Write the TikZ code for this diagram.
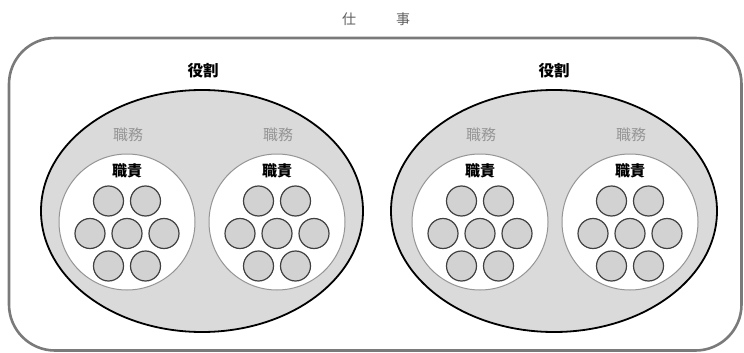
\documentclass[tikz,border=0pt]{standalone}
\usepackage{fontspec}
\setmainfont{Noto Sans CJK JP}
\usetikzlibrary{shapes.geometric}
\definecolor{framegray}{HTML}{7A7A7A}
\definecolor{titlegray}{HTML}{5E5E5E}
\definecolor{rolefill}{HTML}{DADADA}
\definecolor{dotfill}{HTML}{D2D2D2}
\definecolor{dotline}{HTML}{404040}
\definecolor{dutygray}{HTML}{959595}
\tikzset{
  frame/.style={draw=framegray, line width=2.6pt, rounded corners=46pt},
  role/.style={ellipse, draw=black, line width=1.8pt, fill=rolefill, minimum width=322pt, minimum height=242pt, inner sep=0pt},
  duty/.style={circle, draw=dutygray, line width=1pt, fill=white, minimum size=136pt, inner sep=0pt},
  dot/.style={circle, draw=dotline, line width=1.2pt, fill=dotfill, minimum size=30pt, inner sep=0pt},
  rolelab/.style={font=\bfseries\fontsize{15.5pt}{17pt}\selectfont, text=black},
  dutylab/.style={font=\fontsize{15pt}{17pt}\selectfont, text=dutygray},
  resplab/.style={font=\bfseries\fontsize{15pt}{17pt}\selectfont, text=black},
  titlelab/.style={font=\fontsize{14pt}{16pt}\selectfont, text=titlegray}
}
\begin{document}
\begin{tikzpicture}[x=1pt,y=-1pt]
\useasboundingbox (0,0) rectangle (744,353);
\node[titlelab] (title) at (376,19) {仕\hspace{40pt}事};
\draw[frame] (9,38) rectangle (741.5,350.5);
\node[role] (roleL) at (202,211) {};
\node[role, minimum width=326pt] (roleR) at (554,211) {};
\node[rolelab] (roleLlab) at (203,71) {役割};
\node[rolelab] (roleRlab) at (554,71) {役割};
\foreach \c/\n in {127/a,277/b,480/c,630/d}{
  \node[duty] (duty\n) at (\c,222) {};
  \node[dutylab] (duty\n lab) at (\c+1,135) {職務};
  \node[resplab] (resp\n lab) at (\c,170.5) {職責};
  \node[dot] (dot\n1) at (\c-18.5,201) {};
  \node[dot] (dot\n2) at (\c+18.5,201) {};
  \node[dot] (dot\n3) at (\c-37,233.5) {};
  \node[dot] (dot\n4) at (\c,233.5) {};
  \node[dot] (dot\n5) at (\c+37,233.5) {};
  \node[dot] (dot\n6) at (\c-18.5,266) {};
  \node[dot] (dot\n7) at (\c+18.5,266) {};
}
\end{tikzpicture}
\end{document}
